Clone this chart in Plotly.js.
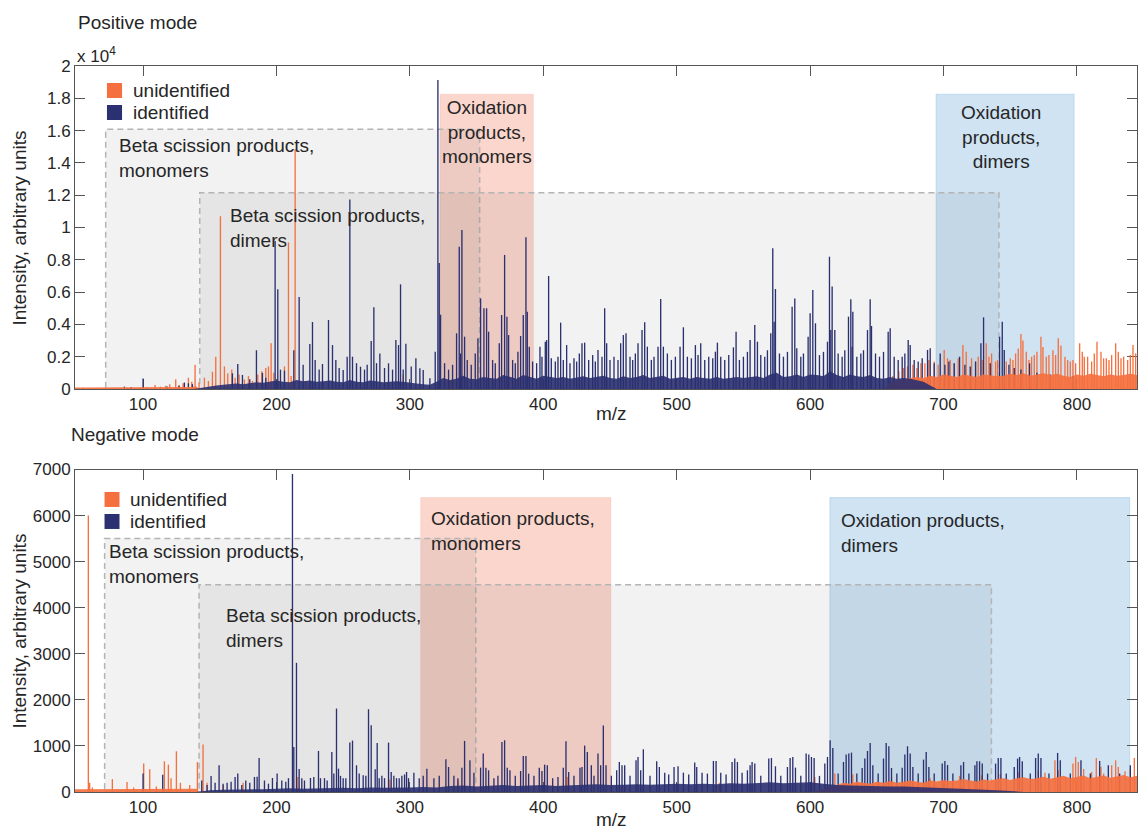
<!DOCTYPE html>
<html>
<head>
<meta charset="utf-8">
<script src="https://cdn.plot.ly/plotly-3.0.1.min.js"></script>
<style>html,body{margin:0;padding:0;background:#fff;}#chart{width:1138px;height:830px;}</style>
</head>
<body>
<div id="chart"></div>
<script>
// ---------- tick labels ----------
const xTicks = [100, 200, 300, 400, 500, 600, 700, 800];
const posYTickVals = [0, 2000, 4000, 6000, 8000, 10000, 12000, 14000, 16000, 18000, 20000];
const posYTickText = ['0', '0.2', '0.4', '0.6', '0.8', '1', '1.2', '1.4', '1.6', '1.8', '2'];
const negYTickVals = [0, 1000, 2000, 3000, 4000, 5000, 6000, 7000];
const negYTickText = ['0', '1000', '2000', '3000', '4000', '5000', '6000', '7000'];
const seriesNames = ['unidentified', 'identified'];

// ---------- positive mode: [m/z, intensity] ----------
const posIdentified = [[86,150],[91,120],[100,650],[118,150],[127,200],[131,400],[134,350],[137,300],
[167,970],[171,1550],[174.5,870],[180,600],[185,2400],[189.5,1000],[192,700],[199,9160],[201,6170],[203,1200],[206,1140],
[213,2400],[217,5700],[220,1500],[225,2790],[227,4150],[229,1800],[232,1200],[234.5,1550],[239,4270],[242,2720],[244.5,1800],
[247,1300],[250,1180],[253,2000],[255,11740],[257,2000],[260,1600],[263,1380],[266,1200],[268,1500],[271,2970],[273,5060],
[275,1600],[277.5,2200],[281,1300],[284,1590],[287,1200],[289.5,3030],[291.5,2720],[293,6480],[295,1200],[297,2800],
[301,1400],[304.5,1900],[307.5,1280],[310,1180],[315,660],[319,2300],[321,19130],[322,7800],[323,4600],[326,1600],[329,1200],
[332,1500],[335,3450],[337,8810],[338,2200],[339,9850],[341,3240],[343,1800],[346,1500],[349,2200],[351,3140],[353,5610],
[355.5,5000],[357.5,5000],[359,3550],[362,1800],[364,1600],[367,2830],[368.75,4580],[371,8300],[372.75,4480],[374,3340],
[377,1800],[379,1600],[381,2310],[383,3280],[385,4580],[387,9390],[388,4790],[389.5,2620],[392,1700],[395,1600],[397.5,2620],
[399,2000],[401.5,2930],[402.5,3030],[404,7000],[406,1900],[409,1700],[411,2000],[413,4110],[415,1800],[417.5,2720],[420,1600],
[423,1900],[425,1700],[427,2200],[429,2830],[431,2870],[434,1800],[437,2100],[439,1700],[441,2420],[444,2000],[446,5000],
[447.5,2830],[450,1800],[453,2000],[456,1800],[458,2830],[460,3340],[462,3450],[465,2000],[467,1800],[469,2200],[471,2830],
[474,3650],[476,4130],[478,2620],[481,1800],[483,2000],[486,2620],[488,5570],[490,2620],[493,2200],[496,1800],[499,2000],
[502.5,2620],[505,3820],[508,2000],[511,1900],[514,2720],[516,2100],[518,2830],[521,1800],[524,2000],[527,1900],[529,2310],
[530.5,2870],[533,2000],[536,1800],[539,2100],[542.5,2580],[544.5,3550],[547,1800],[550,2000],[553,2300],[555,3030],
[558.5,3960],[560.5,2930],[563,2100],[566,2000],[568,2400],[570.5,3450],[572,8710],[573,4170],[574,6190],[577,2200],[580,2000],
[583,2300],[586.5,5100],[588.5,5610],[590,2520],[593,2000],[595,2200],[598.5,3240],[600,4690],[602,6130],[604,4070],[607,2100],
[610,2300],[613,2930],[614.5,8190],[615.5,3650],[616.5,6340],[618.5,3650],[621,2200],[624,2000],[626,2400],[628.75,4480],
[630.5,5550],[631.5,2620],[632,4790],[635,2000],[638,2200],[640,2400],[643,3650],[645,5550],[646,3900],[649,2200],[652,2000],
[655,2300],[658.5,3550],[660,3760],[663,2000],[666,1800],[669,2000],[671,2200],[673.5,3030],[675,2720],[678,1800],[681,1700],
[684,1900],[688,2420],[690,2520],[693,1600],[697.5,2200],[701,1500],[704,1700],[708,1590],[712,2000],[716,1500],[720,1400],
[724,1700],[728,2830],[730,4440],[735,1600],[742,3240],[744,4170],[745.5,2420],[749,1500],[753,1300],[758,1200],[764.5,1590],
[770,1000],[780,900],[797,800]];

const posUnidentified = [[55,80],[60,50],[66,60],[72,40],[78,60],[83,50],[88,80],[94,60],[98,100],[103,120],[106,80],[109,250],
[113,150],[117,200],[120,300],[124.5,600],[127,250],[130,350],[134,700],[136.5,450],[139,1500],[142,400],[146,700],[149,500],
[152,1070],[154.5,2000],[158,10700],[161,1400],[163.5,970],[166.5,1200],[169,700],[172,900],[176,600],[179,800],[182,500],
[186,900],[189,1100],[192,1300],[194,1400],[196,2830],[198,1000],[206,1400],[209,9080],[211,800],[214,14840],[222,500],
[235,400],[260,400],[295,900],[330,500],[362,400],[395,400],
[662,800],[666.5,1100],[670,1300],[673,1400],[677,1500],[680,1300],[683,1600],[686,1600],[689,1800],[693,1700],[696,1500],
[700.5,2420],[703,1900],[705,1800],[708,1600],[711,1900],[714.5,2720],[717,2300],[721,1900],[724,1700],[726,2000],[729,1800],
[732,2830],[734,2000],[736,2200],[739,1700],[740.5,1800],[747,1700],[750,1900],[752,1800],[754,2200],[756,2500],[758,3400],
[759.5,3000],[762,2300],[764,1800],[766,2000],[768,2100],[770,2300],[773,3240],[774.5,2600],[777,2000],[779,2100],[782,2400],
[784,2100],[786,3140],[788,2700],[791,2000],[793,1800],[795,1700],[797,1800],[799,1600],[802,2830],[804,2300],[805.5,2000],
[808,2000],[811,1700],[813,2200],[815,2930],[818,2300],[820,1900],[822,1900],[824,1800],[826,2100],[829,2830],[831,2300],
[833,1900],[835,2000],[838,1800],[840,2100],[842,2720],[844,2200]];

// dense low-level "forest" of peaks, read as an envelope
const posIdentifiedFloor = [[138,0],[145,100],[150,180],[155,220],[160,260],[165,300],[170,340],[175,300],[180,380],[185,420],
[190,380],[195,450],[200,520],[205,450],[210,420],[215,560],[220,480],[225,520],[230,450],[235,480],[240,520],[245,450],
[250,420],[255,560],[260,450],[265,420],[270,520],[275,480],[280,420],[285,450],[290,480],[295,450],[300,380],[305,340],
[310,300],[315,260],[320,450],[325,680],[330,560],[335,640],[340,820],[345,640],[350,600],[355,750],[360,680],[365,640],
[370,860],[375,750],[380,640],[385,860],[390,750],[395,640],[400,820],[405,750],[410,680],[415,750],[420,640],[425,710],
[430,790],[435,680],[440,750],[445,820],[450,680],[455,640],[460,790],[465,680],[470,750],[475,860],[480,680],[485,750],
[490,820],[495,640],[500,680],[505,750],[510,640],[515,750],[520,680],[525,640],[530,750],[535,640],[540,680],[545,750],
[550,680],[555,750],[560,790],[565,680],[570,900],[575,1000],[580,750],[585,790],[590,900],[595,750],[600,900],[605,860],
[610,790],[615,1100],[620,860],[625,750],[630,900],[635,790],[640,750],[645,860],[650,680],[655,640],[660,750],[665,640],
[670,680],[675,640],[680,560],[685,450],[690,220],[695,0]];

const posUnidentifiedFloor = [[49,90],[70,90],[90,90],[110,100],[125,110],[135,130],[140,160],[142,0],[655,0],[660,380],
[665,520],[670,600],[675,680],[680,750],[685,680],[690,820],[695,750],[700,900],[705,820],[710,750],[715,900],[720,820],
[725,750],[730,900],[735,860],[740,790],[745,820],[750,940],[755,860],[760,980],[765,820],[770,900],[775,980],[780,860],
[785,940],[790,820],[795,750],[800,900],[805,820],[810,940],[815,860],[820,790],[825,900],[830,820],[835,860],[840,940],
[845,860]];

// ---------- negative mode: [m/z, intensity] ----------
const negIdentified = [[100,400],[114.75,377],[144,250],[148,150],[151,348],[154,200],[157,580],[160,180],[163,200],[166,220],
[169,326],[171,400],[174,150],[177,250],[180,200],[183.5,326],[185.5,330],[187,739],[191,250],[194,180],[197,304],[200.5,400],
[204,250],[207,220],[209,300],[212,6900],[213,978],[215,2804],[217,500],[219,300],[221,250],[225.5,304],[228,326],[231.5,891],
[233,300],[236,300],[238,250],[241.5,870],[243,400],[245,1811],[246.5,507],[248,350],[250,300],[252,300],[255,1072],[257,1116],
[260,580],[262,400],[265,362],[267,350],[269,1797],[271,1449],[274,493],[275.5,1065],[277,300],[279,350],[281,300],[284,1072],
[286,435],[288,350],[290,300],[292,300],[294,350],[296,380],[297.5,435],[299,300],[303,420],[307,300],[310,350],[312.75,507],
[318,300],[322,350],[327,710],[329,543],[333,350],[336,300],[339,529],[341,1109],[345,688],[348,420],[353,529],[355,833],
[357,529],[359,471],[363,300],[366,350],[369,1087],[371,1123],[373,529],[375,471],[379,350],[383,456],[385,783],[387,783],
[389,399],[393,350],[397,529],[399,456],[401,594],[403,580],[407,300],[411,326],[415,529],[417,1101],[419,435],[423,350],
[427.5,529],[429,543],[431,1007],[433,870],[436,580],[438,350],[441,833],[443,580],[445,1442],[447,580],[451,350],[455,471],
[457,652],[459,580],[461,580],[465,350],[469.5,688],[471,761],[473,471],[475,927],[480,350],[485,667],[487,543],[491,420],
[494,380],[498,543],[501,558],[505,420],[509,380],[513.5,638],[515,543],[519,420],[523,400],[527.5,674],[529.5,674],[533,420],
[537,380],[541.5,652],[543.5,725],[545.5,652],[549,420],[553,471],[555,580],[556.5,652],[558.5,616],[563,350],[569,725],
[571,739],[574,558],[578,350],[583,543],[585,739],[587,761],[589,529],[593,350],[597,833],[599,812],[601,761],[603,739],
[607,350],[611,616],[613,761],[615,1123],[617,957],[621,400],[625,652],[627,812],[629,833],[631,855],[635,400],[639,522],
[641,725],[643,891],[645,1065],[647,580],[651,400],[655,725],[657,1065],[659,993],[661,522],[665,400],[669,529],[671,812],
[673,993],[675,833],[677,543],[681,400],[685,703],[687,870],[689,543],[693,400],[699,616],[701,674],[703,587],[707,400],
[713,580],[715,652],[719,400],[723.5,580],[725,667],[727,667],[729,616],[733,400],[739,616],[741,739],[743,739],[747,400],
[753,543],[755.5,725],[757,761],[759,667],[765,400],[769,739],[771,833],[773,739],[779,400],[785.5,848],[787.5,688],[795,400],
[803,688],[810,400],[817,674],[823.5,580],[832,400],[840,580]];

const negUnidentified = [[59,6000],[60,200],[62,100],[77,280],[88,217],[93,100],[100.5,616],[105,493],[110,120],[116,667],
[119,594],[121,300],[125,884],[128,200],[135,150],[140.75,650],[145,1029],[148,200],[160,150],[175,200],[216,327],[285,270],
[336,254],[418,326],[532,200],[603.5,326],[618.5,399],[632,384],[661,326],[690,300],[712,350],[728.5,362],[742.5,384],
[756.5,435],[771,471],[776,420],[783.5,688],[786,471],[791.5,326],[797,616],[799,761],[801,652],[805,500],[811,435],
[814.5,739],[818,550],[820,400],[826,580],[829,688],[831,543],[836,450],[840,500],[843,739]];

const negIdentifiedFloor = [[140,0],[150,40],[160,50],[170,50],[180,60],[190,60],[200,70],[210,80],[220,70],[230,80],[240,80],
[250,90],[260,80],[270,100],[280,90],[290,90],[300,100],[310,110],[320,100],[330,130],[340,140],[350,120],[360,130],[370,150],
[380,130],[390,140],[400,150],[410,130],[420,150],[430,160],[440,170],[450,150],[460,160],[470,170],[480,160],[490,170],
[500,180],[510,170],[520,180],[530,170],[540,190],[550,180],[560,200],[570,210],[580,190],[590,200],[600,210],[610,180],
[620,150],[630,140],[640,130],[650,130],[660,120],[670,120],[680,110],[690,100],[700,90],[710,80],[720,60],[730,50],
[740,40],[750,20],[760,0]];

const negUnidentifiedFloor = [[49,60],[70,60],[100,60],[130,60],[140,70],[142,0],[600,0],[610,60],[615,100],[620,150],[625,200],
[630,180],[635,220],[640,200],[645,180],[650,220],[655,200],[660,240],[665,200],[670,220],[675,250],[680,220],[685,200],
[690,250],[695,230],[700,260],[705,240],[710,250],[715,280],[720,250],[725,230],[730,270],[735,250],[740,280],[745,300],
[750,260],[755,300],[760,320],[765,280],[770,300],[775,330],[780,290],[785,320],[790,350],[795,300],[800,330],[805,360],
[810,300],[815,330],[820,360],[825,310],[830,340],[835,370],[840,320],[845,350]];

// ---------- shaded regions: [m/z start, m/z end, top] ----------
const posBetaMono = [72, 352.3, 16080];
const posBetaDimer = [142.5, 741.5, 12155];
const posOxMono = [322.6, 392.6, 18250];
const posOxDimer = [694.4, 797.9, 18250];
const negBetaMono = [71.2, 349.4, 5500];
const negBetaDimer = [142, 735.9, 4500];
const negOxMono = [308.1, 450.7, 6390];
const negOxDimer = [614.8, 839.5, 6390];

// ---------- styling ----------
const ORANGE = '#F5703F';
const NAVY = '#2A3070';
const NAVY_FLOOR = 'rgba(42,48,112,0.9)';
const ORANGE_FLOOR = 'rgba(245,112,63,0.92)';
const FONT = 'Liberation Sans, Arial, Helvetica, sans-serif';
const TXT = '#262626';
const AX = '#555555';

const xs = a => a.map(p => p[0]);
const ys = a => a.map(p => p[1]);

function barTrace(arr, color, name, xa, ya) {
  return {type: 'bar', x: xs(arr), y: ys(arr), width: 1, name: name,
    marker: {color: color, line: {width: 0}}, xaxis: xa, yaxis: ya,
    showlegend: false, hoverinfo: 'skip'};
}
function floorTrace(arr, color, xa, ya) {
  return {type: 'scatter', mode: 'lines', x: xs(arr), y: ys(arr), fill: 'tozeroy',
    fillcolor: color, line: {width: 0, color: color}, xaxis: xa, yaxis: ya,
    showlegend: false, hoverinfo: 'skip'};
}

const data = [
  barTrace(posUnidentified, ORANGE, seriesNames[0], 'x', 'y'),
  barTrace(posIdentified, NAVY, seriesNames[1], 'x', 'y'),
  floorTrace(posUnidentifiedFloor, ORANGE_FLOOR, 'x', 'y'),
  floorTrace(posIdentifiedFloor, NAVY_FLOOR, 'x', 'y'),
  barTrace(negUnidentified, ORANGE, seriesNames[0], 'x2', 'y2'),
  barTrace(negIdentified, NAVY, seriesNames[1], 'x2', 'y2'),
  floorTrace(negUnidentifiedFloor, ORANGE_FLOOR, 'x2', 'y2'),
  floorTrace(negIdentifiedFloor, NAVY_FLOOR, 'x2', 'y2')
];

function colorBox(r, xr, yr, fill, edge) {
  return {type: 'rect', xref: xr, yref: yr, x0: r[0], x1: r[1], y0: 0, y1: r[2],
    fillcolor: fill, line: {color: edge, width: 1}, layer: 'below'};
}
function grayBox(r, xr, yr) {
  return {type: 'rect', xref: xr, yref: yr, x0: r[0], x1: r[1], y0: 0, y1: r[2],
    fillcolor: 'rgba(0,0,0,0.05)', line: {color: '#b4b4b4', width: 1.5, dash: '6px,4px'}, layer: 'below'};
}
function legendSwatch(x0, x1, y0, y1, color) {
  return {type: 'rect', xref: 'paper', yref: 'paper', x0: x0, x1: x1, y0: y0, y1: y1,
    fillcolor: color, line: {width: 0}, layer: 'above'};
}
const SALMON = 'rgba(244,128,98,0.32)', SALMON_E = 'rgba(244,128,98,0.15)';
const BLUE = 'rgba(160,200,232,0.5)', BLUE_E = 'rgba(130,180,220,0.35)';

const shapes = [
  colorBox(posOxMono, 'x', 'y', SALMON, SALMON_E),
  colorBox(posOxDimer, 'x', 'y', BLUE, BLUE_E),
  grayBox(posBetaMono, 'x', 'y'),
  grayBox(posBetaDimer, 'x', 'y'),
  colorBox(negOxMono, 'x2', 'y2', SALMON, SALMON_E),
  colorBox(negOxDimer, 'x2', 'y2', BLUE, BLUE_E),
  grayBox(negBetaMono, 'x2', 'y2'),
  grayBox(negBetaDimer, 'x2', 'y2'),
  // legend swatches
  legendSwatch(0.0301, 0.0443, 0.9559, 0.9766, ORANGE),
  legendSwatch(0.0301, 0.0443, 0.9256, 0.9463, NAVY),
  legendSwatch(0.0278, 0.0419, 0.3926, 0.4132, ORANGE),
  legendSwatch(0.0278, 0.0419, 0.3623, 0.3829, NAVY)
];

function note(x, y, text, xr, yr, xanchor, align, size) {
  return {x: x, y: y, xref: xr, yref: yr, text: text, showarrow: false,
    xanchor: xanchor, yanchor: 'middle', align: align,
    font: {family: FONT, size: size || 19, color: TXT}};
}

const annotations = [
  note(80.5, 14300, 'Beta scission products,<br>monomers', 'x', 'y', 'left', 'left'),
  note(164, 10000, 'Beta scission products,<br>dimers', 'x', 'y', 'left', 'left'),
  note(358, 15930, 'Oxidation<br>products,<br>monomers', 'x', 'y', 'center', 'center'),
  note(743, 15620, 'Oxidation<br>products,<br>dimers', 'x', 'y', 'center', 'center'),
  note(73, 4950, 'Beta scission products,<br>monomers', 'x2', 'y2', 'left', 'left'),
  note(160.7, 3560, 'Beta scission products,<br>dimers', 'x2', 'y2', 'left', 'left'),
  note(314.7, 5670, 'Oxidation products,<br>monomers', 'x2', 'y2', 'left', 'left'),
  note(621.6, 5620, 'Oxidation products,<br>dimers', 'x2', 'y2', 'left', 'left'),
  // legends
  note(0.0527, 0.9663, seriesNames[0], 'paper', 'paper', 'left', 'left'),
  note(0.0527, 0.9360, seriesNames[1], 'paper', 'paper', 'left', 'left'),
  note(0.0499, 0.4029, seriesNames[0], 'paper', 'paper', 'left', 'left'),
  note(0.0499, 0.3726, seriesNames[1], 'paper', 'paper', 'left', 'left'),
  // panel titles
  note(0.001, 1.0606, 'Positive mode', 'paper', 'paper', 'left', 'left'),
  note(-0.0058, 0.4931, 'Negative mode', 'paper', 'paper', 'left', 'left'),
  // exponent
  note(0.0, 1.0145, 'x 10<sup>4</sup>', 'paper', 'paper', 'left', 'left', 17),
  // x titles
  note(0.505, 0.5207, 'm/z', 'paper', 'paper', 'center', 'center'),
  note(0.505, -0.0385, 'm/z', 'paper', 'paper', 'center', 'center')
];
// y titles
annotations.push(Object.assign(note(-0.0518, 0.7775, 'Intensity, arbitrary units', 'paper', 'paper', 'center', 'center'), {textangle: -90}));
annotations.push(Object.assign(note(-0.0518, 0.2223, 'Intensity, arbitrary units', 'paper', 'paper', 'center', 'center'), {textangle: -90}));

function xAxis(anchor) {
  return {domain: [0, 1], anchor: anchor, range: [49, 845], tickvals: xTicks, ticktext: xTicks.map(String),
    ticks: 'inside', ticklen: 10, tickwidth: 1, tickcolor: AX, showline: true, linecolor: AX, linewidth: 1,
    mirror: 'ticks', showgrid: false, zeroline: false, layer: 'below traces', automargin: false,
    tickfont: {family: FONT, size: 17, color: TXT}};
}
function yAxis(anchor, domain, range, vals, text) {
  return {domain: domain, anchor: anchor, range: range, tickvals: vals, ticktext: text,
    ticks: 'inside', ticklen: 10, tickwidth: 1, tickcolor: AX, showline: true, linecolor: AX, linewidth: 1,
    mirror: 'ticks', showgrid: false, zeroline: false, layer: 'below traces', automargin: false,
    tickfont: {family: FONT, size: 17, color: TXT}};
}

const layout = {
  width: 1138, height: 830,
  margin: {l: 75, r: 1, t: 66, b: 38},
  paper_bgcolor: '#ffffff', plot_bgcolor: '#ffffff',
  font: {family: FONT, size: 17, color: TXT},
  barmode: 'overlay',
  showlegend: false,
  hovermode: false,
  xaxis: xAxis('y'),
  yaxis: yAxis('x', [0.5551, 1], [0, 20000], posYTickVals, posYTickText),
  xaxis2: xAxis('y2'),
  yaxis2: yAxis('x2', [0, 0.4442], [0, 7000], negYTickVals, negYTickText),
  shapes: shapes,
  annotations: annotations
};

Plotly.newPlot('chart', data, layout, {staticPlot: true, displayModeBar: false});
</script>
</body>
</html>
